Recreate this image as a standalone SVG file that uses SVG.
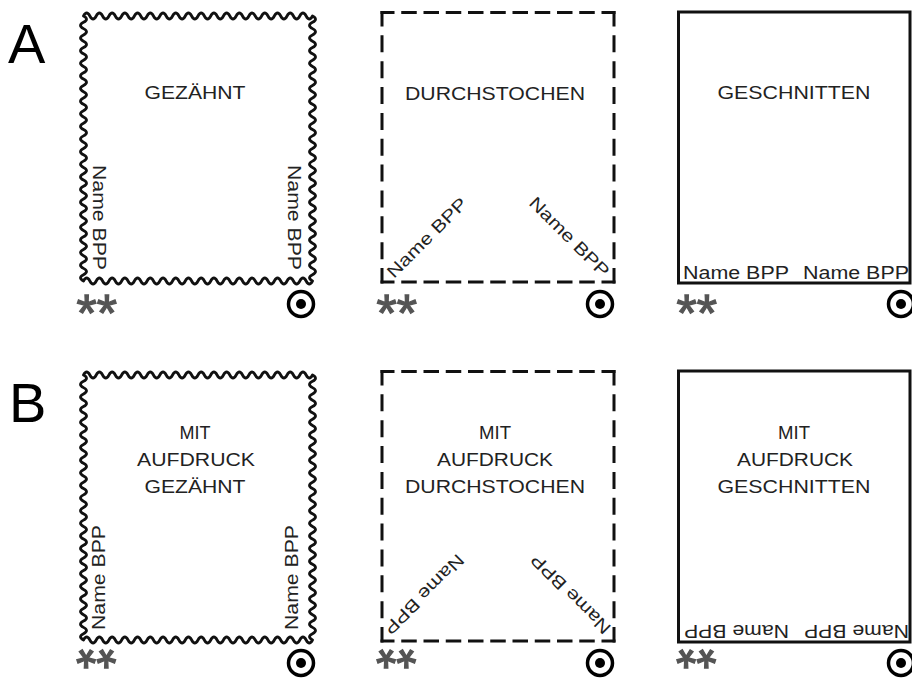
<svg xmlns="http://www.w3.org/2000/svg" xmlns:xlink="http://www.w3.org/1999/xlink" width="912" height="679" viewBox="0 0 912 679">
<style>
.perf{fill:none;stroke:#111;stroke-width:2.8;stroke-linejoin:round}
.dh{stroke:#111;stroke-width:3;stroke-dasharray:15.5 6.75;stroke-dashoffset:1.5}
.dv{stroke:#111;stroke-width:3;stroke-dasharray:17 8.85;stroke-dashoffset:1.5}
.solid{fill:none;stroke:#111;stroke-width:3}
.lbl{font-family:"Liberation Sans",Arial,sans-serif;font-size:18px;fill:#222;text-anchor:middle}
.nm{font-family:"Liberation Sans",Arial,sans-serif;font-size:17.5px;fill:#222}
.big{font-family:"Liberation Sans",Arial,sans-serif;font-size:56px;fill:#000}
.ast{font-family:"Liberation Sans",Arial,sans-serif;font-size:52px;fill:#555;stroke:#555;stroke-width:1.3}
.ring{fill:none;stroke:#000;stroke-width:3.5}
.dot{fill:#000}
</style>
<defs>
<path id="perf" class="perf" d="M83.5 16
q3.18055 -6 6.3611 0
t6.3611 0 6.3611 0 6.3611 0 6.3611 0 6.3611 0 6.3611 0 6.3611 0 6.3611 0 6.3611 0 6.3611 0
 6.3611 0 6.3611 0 6.3611 0 6.3611 0 6.3611 0 6.3611 0 6.3611 0 6.3611 0 6.3611 0 6.3611 0
 6.3611 0 6.3611 0 6.3611 0 6.3611 0 6.3611 0 6.3611 0 6.3611 0 6.3611 0 6.3611 0 6.3611 0
 6.3611 0 6.3611 0 6.3611 0 6.3611 0 6.3611 0
q6 3.15475 0 6.3095
t0 6.3095 0 6.3095 0 6.3095 0 6.3095 0 6.3095 0 6.3095 0 6.3095 0 6.3095 0 6.3095 0 6.3095
 0 6.3095 0 6.3095 0 6.3095 0 6.3095 0 6.3095 0 6.3095 0 6.3095 0 6.3095 0 6.3095 0 6.3095
 0 6.3095 0 6.3095 0 6.3095 0 6.3095 0 6.3095 0 6.3095 0 6.3095 0 6.3095 0 6.3095 0 6.3095
 0 6.3095 0 6.3095 0 6.3095 0 6.3095 0 6.3095 0 6.3095 0 6.3095 0 6.3095 0 6.3095 0 6.3095
 0 6.3095
q-3.18055 6 -6.3611 0
t-6.3611 0 -6.3611 0 -6.3611 0 -6.3611 0 -6.3611 0 -6.3611 0 -6.3611 0 -6.3611 0 -6.3611 0 -6.3611 0
 -6.3611 0 -6.3611 0 -6.3611 0 -6.3611 0 -6.3611 0 -6.3611 0 -6.3611 0 -6.3611 0 -6.3611 0 -6.3611 0
 -6.3611 0 -6.3611 0 -6.3611 0 -6.3611 0 -6.3611 0 -6.3611 0 -6.3611 0 -6.3611 0 -6.3611 0 -6.3611 0
 -6.3611 0 -6.3611 0 -6.3611 0 -6.3611 0 -6.3611 0
q-6 -3.15475 0 -6.3095
t0 -6.3095 0 -6.3095 0 -6.3095 0 -6.3095 0 -6.3095 0 -6.3095 0 -6.3095 0 -6.3095 0 -6.3095 0 -6.3095
 0 -6.3095 0 -6.3095 0 -6.3095 0 -6.3095 0 -6.3095 0 -6.3095 0 -6.3095 0 -6.3095 0 -6.3095 0 -6.3095
 0 -6.3095 0 -6.3095 0 -6.3095 0 -6.3095 0 -6.3095 0 -6.3095 0 -6.3095 0 -6.3095 0 -6.3095 0 -6.3095
 0 -6.3095 0 -6.3095 0 -6.3095 0 -6.3095 0 -6.3095 0 -6.3095 0 -6.3095 0 -6.3095 0 -6.3095 0 -6.3095
 0 -6.3095
Z"/>
<g id="dashbox">
<line class="dh" x1="380.5" y1="12.5" x2="615.5" y2="12.5"/>
<line class="dh" x1="380.5" y1="282" x2="615.5" y2="282"/>
<line class="dv" x1="382" y1="11" x2="382" y2="283.5"/>
<line class="dv" x1="614" y1="11" x2="614" y2="283.5"/>
</g>
<g id="sig">
<circle class="ring" cx="0" cy="0" r="12.5"/>
<circle class="dot" cx="0" cy="0" r="5"/>
</g>
</defs>
<rect x="0" y="0" width="912" height="679" fill="#fff"/>

<g id="label-A"><text class="big" x="8" y="63">A</text></g>
<g id="label-B"><text class="big" x="9" y="422">B</text></g>

<g id="stamp-A-gezaehnt">
<use xlink:href="#perf" href="#perf"/>
<text class="lbl" x="195" y="99" textLength="101" lengthAdjust="spacingAndGlyphs">GEZÄHNT</text>
<text class="nm" transform="translate(93,165) rotate(90)" textLength="105" lengthAdjust="spacingAndGlyphs">Name BPP</text>
<text class="nm" transform="translate(288,165) rotate(90)" textLength="105" lengthAdjust="spacingAndGlyphs">Name BPP</text>
<text class="ast" x="76.5" y="330.5">**</text>
<use xlink:href="#sig" href="#sig" transform="translate(301,304)"/>
</g>

<g id="stamp-A-durchstochen">
<use xlink:href="#dashbox" href="#dashbox"/>
<text class="lbl" x="495" y="100" textLength="180" lengthAdjust="spacingAndGlyphs">DURCHSTOCHEN</text>
<text class="nm" transform="translate(394,279) rotate(-45)" textLength="105" lengthAdjust="spacingAndGlyphs">Name BPP</text>
<text class="nm" transform="translate(528,204) rotate(45)" textLength="105" lengthAdjust="spacingAndGlyphs">Name BPP</text>
<text class="ast" x="376.5" y="330.5">**</text>
<use xlink:href="#sig" href="#sig" transform="translate(600,304)"/>
</g>

<g id="stamp-A-geschnitten">
<rect class="solid" x="678.5" y="12" width="231.5" height="271"/>
<text class="lbl" x="794" y="99" textLength="153" lengthAdjust="spacingAndGlyphs">GESCHNITTEN</text>
<text class="nm" x="683" y="279" textLength="106" lengthAdjust="spacingAndGlyphs">Name BPP</text>
<text class="nm" x="803" y="279" textLength="106" lengthAdjust="spacingAndGlyphs">Name BPP</text>
<text class="ast" x="676.5" y="330.5">**</text>
<use xlink:href="#sig" href="#sig" transform="translate(901,304)"/>
</g>

<g id="stamp-B-gezaehnt">
<use xlink:href="#perf" href="#perf" transform="translate(0,359)"/>
<text class="lbl" x="195" y="439" textLength="31" lengthAdjust="spacingAndGlyphs">MIT</text>
<text class="lbl" x="196" y="466" textLength="118" lengthAdjust="spacingAndGlyphs">AUFDRUCK</text>
<text class="lbl" x="195" y="493" textLength="101" lengthAdjust="spacingAndGlyphs">GEZÄHNT</text>
<text class="nm" transform="translate(105,630) rotate(-90)" textLength="105" lengthAdjust="spacingAndGlyphs">Name BPP</text>
<text class="nm" transform="translate(298,630) rotate(-90)" textLength="105" lengthAdjust="spacingAndGlyphs">Name BPP</text>
<text class="ast" transform="translate(116.5,631.5) rotate(180)">**</text>
<use xlink:href="#sig" href="#sig" transform="translate(301,663)"/>
</g>

<g id="stamp-B-durchstochen">
<use xlink:href="#dashbox" href="#dashbox" transform="translate(0,359)"/>
<text class="lbl" x="495" y="439" textLength="32" lengthAdjust="spacingAndGlyphs">MIT</text>
<text class="lbl" x="495" y="466" textLength="116" lengthAdjust="spacingAndGlyphs">AUFDRUCK</text>
<text class="lbl" x="495" y="493" textLength="180" lengthAdjust="spacingAndGlyphs">DURCHSTOCHEN</text>
<text class="nm" transform="translate(457,553) rotate(135)" textLength="105" lengthAdjust="spacingAndGlyphs">Name BPP</text>
<text class="nm" transform="translate(612,627) rotate(-135)" textLength="105" lengthAdjust="spacingAndGlyphs">Name BPP</text>
<text class="ast" transform="translate(416.5,631.5) rotate(180)">**</text>
<use xlink:href="#sig" href="#sig" transform="translate(600,663)"/>
</g>

<g id="stamp-B-geschnitten">
<rect class="solid" x="678.5" y="371" width="231.5" height="271"/>
<text class="lbl" x="794" y="439" textLength="32" lengthAdjust="spacingAndGlyphs">MIT</text>
<text class="lbl" x="795" y="466" textLength="116" lengthAdjust="spacingAndGlyphs">AUFDRUCK</text>
<text class="lbl" x="794" y="493" textLength="153" lengthAdjust="spacingAndGlyphs">GESCHNITTEN</text>
<text class="nm" transform="translate(789,624.5) rotate(180)" textLength="105" lengthAdjust="spacingAndGlyphs">Name BPP</text>
<text class="nm" transform="translate(909,624.5) rotate(180)" textLength="105" lengthAdjust="spacingAndGlyphs">Name BPP</text>
<text class="ast" transform="translate(716.5,631.5) rotate(180)">**</text>
<use xlink:href="#sig" href="#sig" transform="translate(901,663)"/>
</g>

<g id="connectors"/>
</svg>
